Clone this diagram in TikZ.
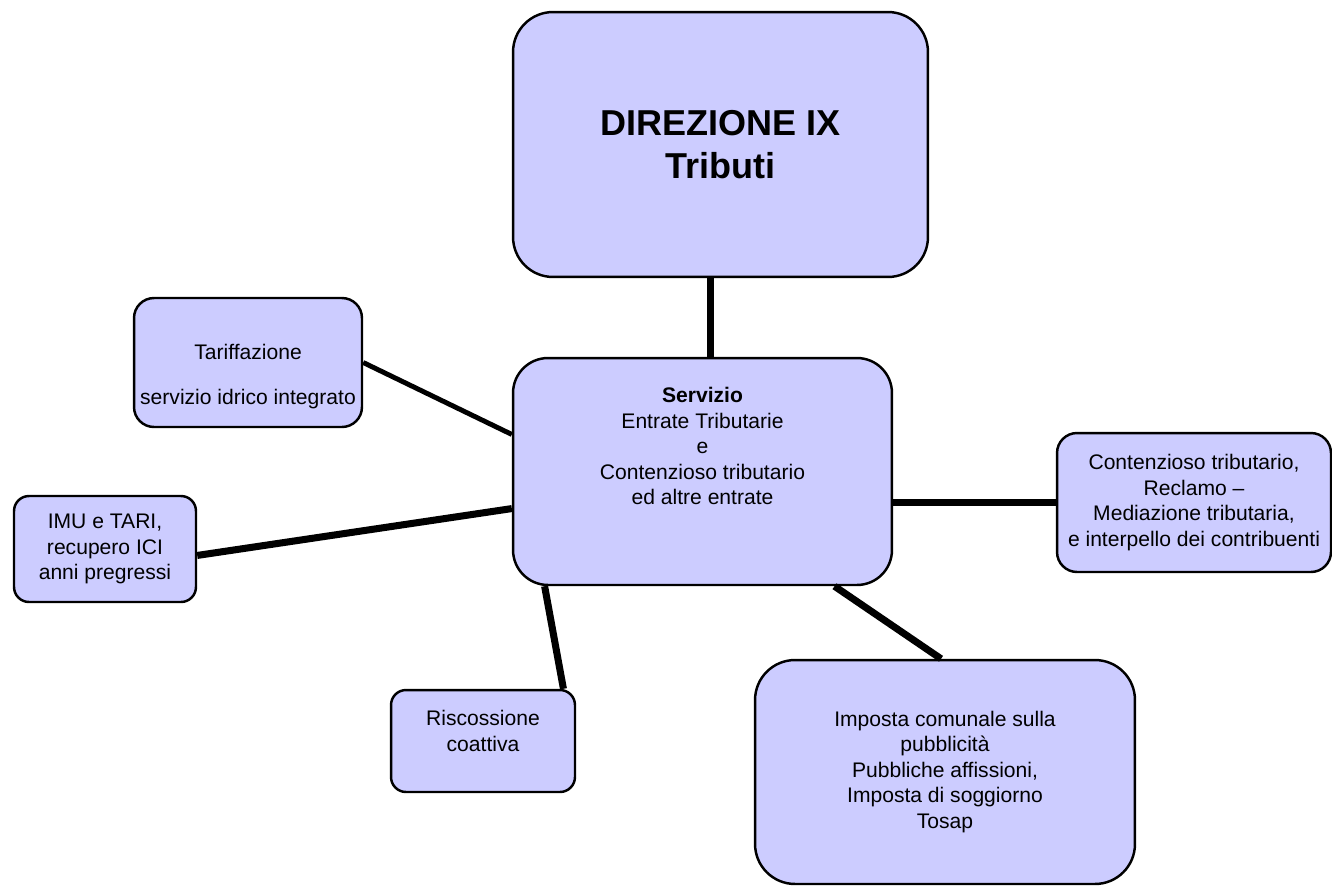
\documentclass[tikz,border=0pt]{standalone}
\usepackage{fontspec}
\setmainfont{Liberation Sans}
\definecolor{boxfill}{HTML}{CCCCFF}

\begin{document}
\begin{tikzpicture}[x=0.02cm,y=-0.02cm,
  box/.style={draw=black, line width=1.4pt, fill=boxfill, align=center,
    inner sep=0pt, font=\fontsize{12}{14.5}\selectfont},
  link/.style={line width=4pt}]
  \useasboundingbox (0,0) rectangle (1332,886);
  \clip (0,0) rectangle (1332,886);

  % boxes
  \node[box, minimum width=8.3cm, minimum height=5.3cm, rounded corners=0.8cm,
    font=\fontsize{20.5}{24.5}\selectfont\bfseries] (dir) at (720.5,144.5)
    {DIREZIONE IX\\Tributi};
  \node[box, minimum width=7.58cm, minimum height=4.54cm, rounded corners=0.7cm]
    (serv) at (702.5,471.5)
    {\textbf{Servizio}\\Entrate Tributarie\\e\\Contenzioso tributario\\ed altre entrate\\[14.5pt]~};
  \node[box, minimum width=4.56cm, minimum height=2.58cm, rounded corners=0.4cm]
    (tar) at (248,362.5)
    {~\\[10pt]Tariffazione\\[11.5pt]servizio idrico integrato};
  \node[box, minimum width=3.64cm, minimum height=2.12cm, rounded corners=0.3cm]
    (imu) at (105,549) {IMU e TARI,\\recupero ICI\\anni pregressi};
  \node[box, minimum width=3.68cm, minimum height=2.04cm, rounded corners=0.3cm]
    (risc) at (483,741) {Riscossione\\coattiva\\[-3.2pt]~};
  \node[box, minimum width=5.48cm, minimum height=2.78cm, rounded corners=0.4cm]
    (cont) at (1194,502.5)
    {Contenzioso tributario,\\Reclamo --\\Mediazione tributaria,\\e interpello dei contribuenti};
  \node[box, minimum width=7.6cm, minimum height=4.48cm, rounded corners=0.8cm]
    (imp) at (945,772)
    {Imposta comunale sulla\\pubblicità\\Pubbliche affissioni,\\Imposta di soggiorno\\Tosap};

  % links
  \draw[link] (serv.86 |- dir.south) -- (serv.86);
  \draw[link, line width=2.8pt] (tar.east) -- (serv.169);
  \draw[link] (imu.-4) -- (serv.191);
  \draw[link] (serv.216) -- (risc.33);
  \draw[link] (cont.west -| serv.east) -- (cont.west);
  \draw[link] (serv.-41) -- (imp.92);
\end{tikzpicture}
\end{document}
